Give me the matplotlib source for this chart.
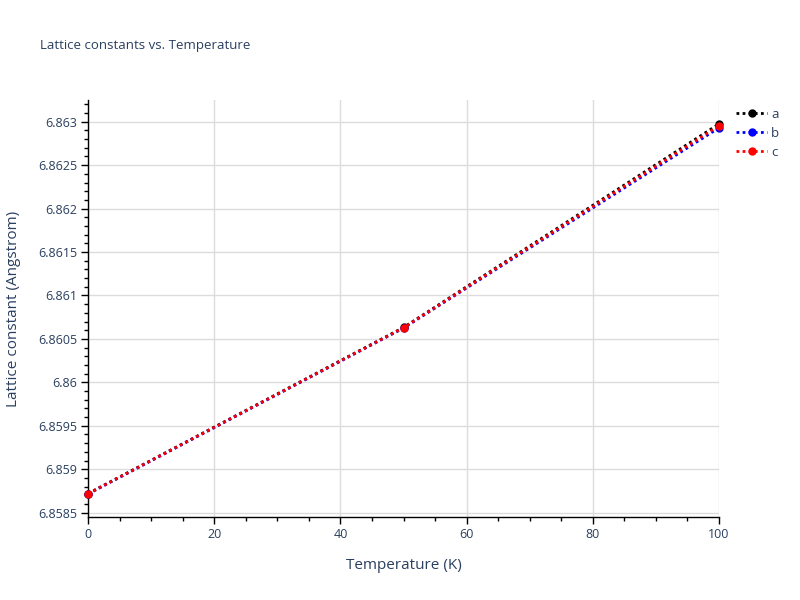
import matplotlib
matplotlib.use("Agg")
import matplotlib.pyplot as plt
from matplotlib.ticker import MultipleLocator, FuncFormatter

# data
temperature = [0, 50, 100]
lat_a = [6.858720, 6.860632, 6.862975]
lat_b = [6.858715, 6.860625, 6.862930]
lat_c = [6.858718, 6.860628, 6.862954]
series_names = ["a", "b", "c"]
series_colors = ["black", "blue", "red"]

plt.rcParams['font.family'] = ['Open Sans', 'DejaVu Sans']
text_color = '#2a3f5f'

fig = plt.figure(figsize=(8, 6), dpi=100)
ax = fig.add_axes([0.11, 0.1383, 0.78875, 0.695])

for vals, name, col in zip([lat_a, lat_b, lat_c], series_names, series_colors):
    ax.plot(temperature, vals, linestyle=(0, (1, 1.2)), linewidth=2, color=col,
            marker='o', markersize=5, label=name, clip_on=False, zorder=3)

ax.set_xlim(0, 100)
ax.set_ylim(6.85845, 6.86325)
ax.xaxis.set_major_locator(MultipleLocator(20))
ax.xaxis.set_minor_locator(MultipleLocator(5))
ax.yaxis.set_major_locator(MultipleLocator(0.0005))
ax.yaxis.set_minor_locator(MultipleLocator(0.0001))
ax.yaxis.set_major_formatter(FuncFormatter(lambda v, p: f"{v:.4f}".rstrip('0').rstrip('.')))

ax.grid(True, which='major', color='#dcdcdc', linewidth=1)
ax.set_axisbelow(True)
for s in ['top', 'right']:
    ax.spines[s].set_visible(False)
for s in ['left', 'bottom']:
    ax.spines[s].set_color('black')
    ax.spines[s].set_linewidth(1)

ax.tick_params(which='major', direction='out', length=5, width=1, color='black',
               labelsize=9, labelcolor=text_color, pad=3)
ax.tick_params(which='minor', direction='out', length=3, width=1, color='black')

ax.set_xlabel('Temperature (K)', fontsize=11, color=text_color, labelpad=12)
ax.set_ylabel('Lattice constant (Angstrom)', fontsize=11, color=text_color, labelpad=12)

fig.text(0.05, 0.925, 'Lattice constants vs. Temperature', fontsize=9.5,
         color=text_color, va='center', ha='left')

leg = ax.legend(loc='upper left', bbox_to_anchor=(1.015, 1.0), frameon=False,
                fontsize=9.5, handlelength=2.3, handletextpad=0.35,
                labelspacing=0.45, borderaxespad=0.2)
for t in leg.get_texts():
    t.set_color(text_color)

fig.savefig('out.png', dpi=100)
